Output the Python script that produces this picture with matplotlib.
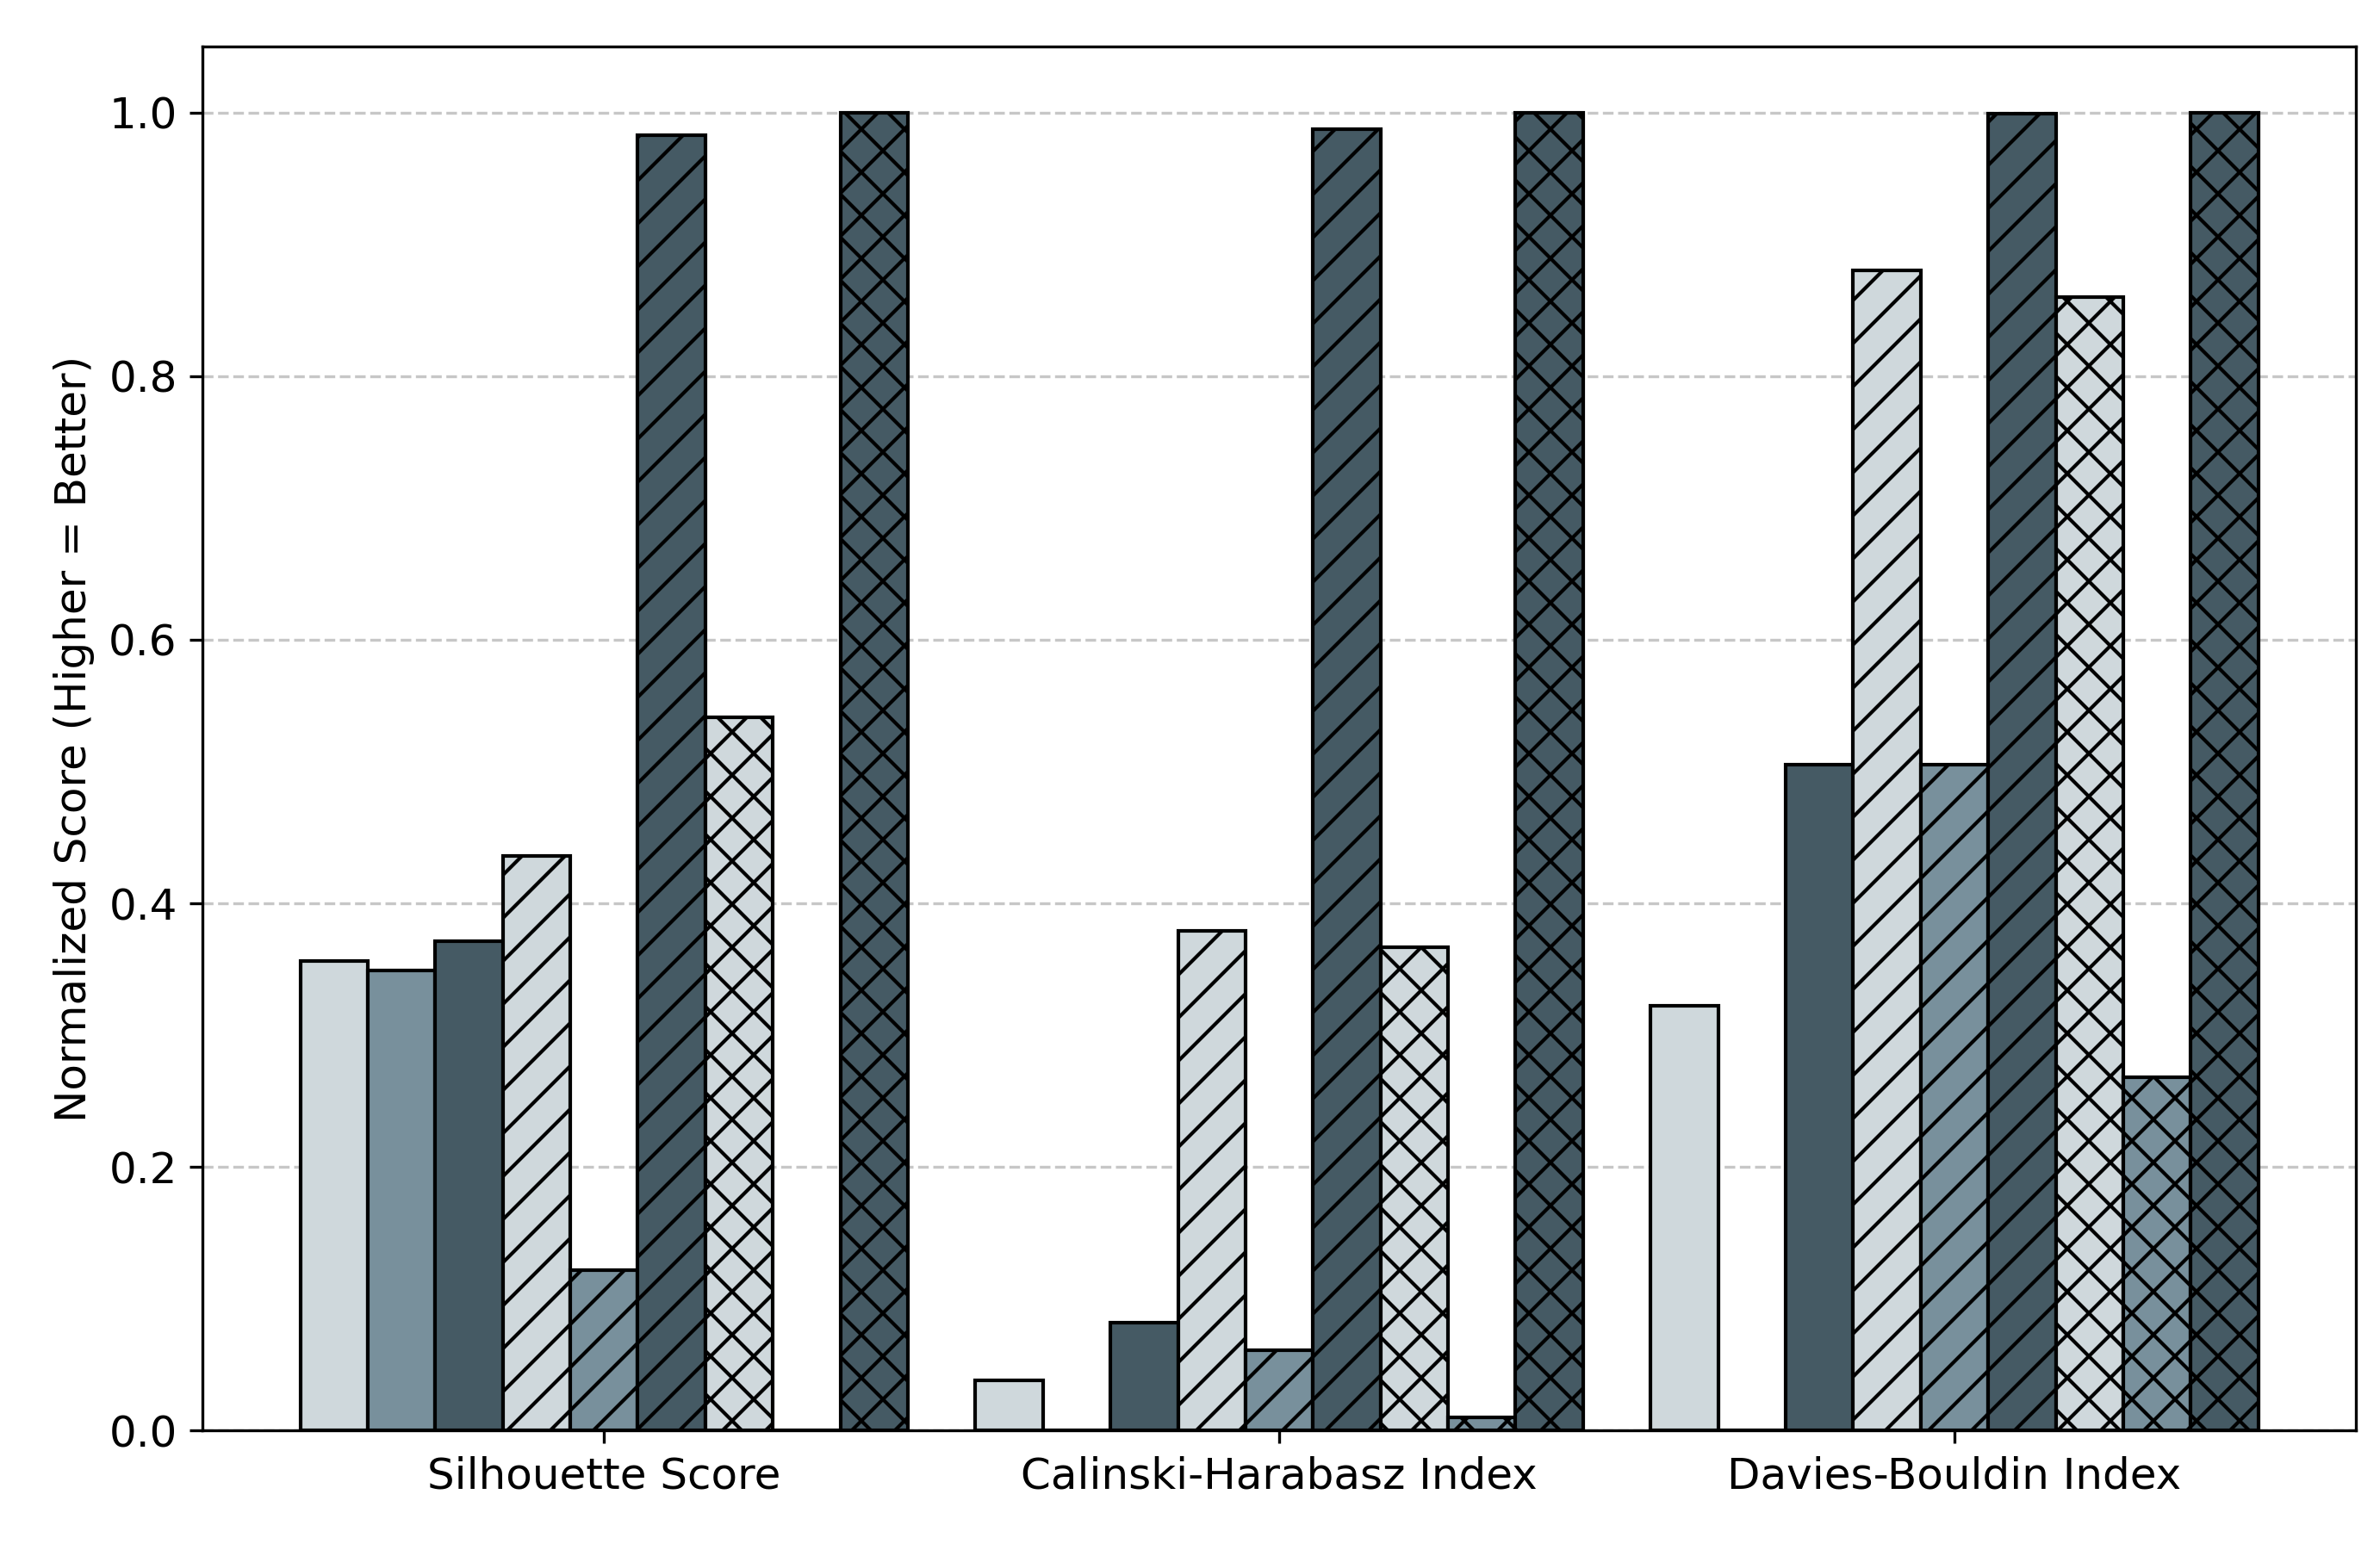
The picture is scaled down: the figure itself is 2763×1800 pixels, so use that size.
import numpy as np
import matplotlib.pyplot as plt

metrics = ["Silhouette Score", "Calinski-Harabasz Index", "Davies-Bouldin Index"]
methods = ["M1", "M2", "M3", "M4", "M5", "M6", "M7", "M8", "M9"]

# normalized scores per method, one value per metric
scores = {
    "M1": [0.356, 0.038, 0.322],
    "M2": [0.349, 0.000, 0.000],
    "M3": [0.371, 0.082, 0.505],
    "M4": [0.436, 0.379, 0.880],
    "M5": [0.122, 0.061, 0.505],
    "M6": [0.983, 0.987, 0.999],
    "M7": [0.541, 0.367, 0.860],
    "M8": [0.000, 0.010, 0.268],
    "M9": [1.000, 1.000, 1.000],
}

colors = ["#cfd8dc", "#78909c", "#455a64"] * 3
hatches = [""] * 3 + ["//"] * 3 + ["xx"] * 3

fig, ax = plt.subplots(figsize=(9.21, 6), dpi=300)
x = np.arange(len(metrics))
width = 0.1

for i, m in enumerate(methods):
    ax.bar(x + (i - 4) * width, scores[m], width, color=colors[i],
           edgecolor="black", hatch=hatches[i], linewidth=1, label=m)

ax.set_xticks(x)
ax.set_xticklabels(metrics, fontsize=12)
ax.tick_params(axis="y", labelsize=12)
ax.set_ylabel("Normalized Score (Higher = Better)", fontsize=12)
ax.set_ylim(0, 1.05)
ax.grid(axis="y", linestyle="--", alpha=0.7)
ax.set_axisbelow(True)

plt.subplots_adjust(left=0.085, right=0.99, top=0.97, bottom=0.077)
plt.savefig("out.png")
